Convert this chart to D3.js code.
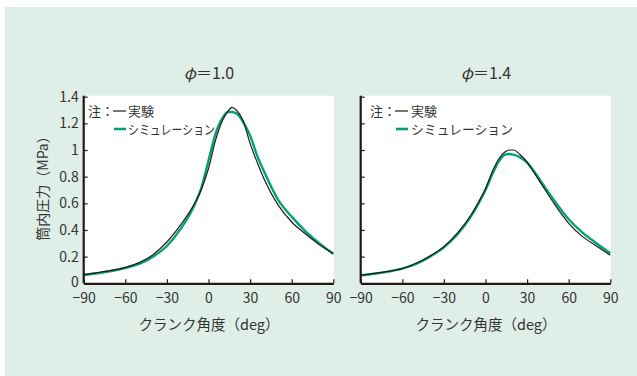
<!DOCTYPE html>
<html lang="ja">
<head>
  <meta charset="UTF-8">
  <script src="https://cdn.jsdelivr.net/npm/d3@7"></script>
  <style>
    body { margin: 0; background: #fff; }
    text { font-family: "Noto Sans CJK JP", "Noto Sans", sans-serif; fill: #333; }
  </style>
  <title>筒内圧力</title>
</head>
<body>
  <svg class="svg" width="637" height="376"></svg>
  <script>
    // クランク角度 (deg)
    const angles = [-90, -80, -70, -60, -50, -40, -30, -20, -10, -5, 0, 5, 10, 14, 17, 20, 25, 30, 35, 40, 50, 60, 70, 80, 90]

    // φ=1.0
    const exp10 = [0.065, 0.08, 0.097, 0.12, 0.155, 0.215, 0.31, 0.44, 0.60, 0.71, 0.86, 1.07, 1.22, 1.29, 1.32, 1.30, 1.22, 1.05, 0.91, 0.785, 0.59, 0.46, 0.37, 0.29, 0.225]
    const sim10 = [0.062, 0.075, 0.092, 0.115, 0.145, 0.20, 0.28, 0.41, 0.59, 0.72, 0.92, 1.12, 1.24, 1.285, 1.285, 1.275, 1.21, 1.11, 0.96, 0.84, 0.63, 0.50, 0.39, 0.30, 0.22]

    // φ=1.4
    const exp14 = [0.062, 0.075, 0.09, 0.11, 0.15, 0.205, 0.275, 0.38, 0.52, 0.61, 0.71, 0.84, 0.94, 0.985, 1.0, 1.0, 0.965, 0.91, 0.83, 0.75, 0.59, 0.45, 0.35, 0.28, 0.21]
    const sim14 = [0.06, 0.072, 0.088, 0.11, 0.145, 0.20, 0.27, 0.37, 0.51, 0.60, 0.70, 0.82, 0.92, 0.965, 0.97, 0.965, 0.945, 0.905, 0.84, 0.765, 0.615, 0.48, 0.38, 0.30, 0.225]

    const xTicks = [-90, -60, -30, 0, 30, 60, 90]
    const yTicks = [0, 0.2, 0.4, 0.6, 0.8, 1, 1.2, 1.4]
    const titles = ["1.0", "1.4"]

    const green = "#00a27a"
    const black = "#231815"

    let svg = d3.select(".svg")

    // background panel
    svg.append("rect")
      .attr("x", 5).attr("y", 7)
      .attr("width", 632).attr("height", 369)
      .attr("fill", "#e0eee8")

    let y = d3.scaleLinear().domain([0, 1.4]).range([283.3, 96.7])

    let panels = [
      {left: 83.7, right: 333.3, exp: exp10, sim: sim10, title: titles[0], labels: true,
       leg: {note: 88, dash: 113, text: 128, simW: 87}},
      {left: 360.7, right: 610.3, exp: exp14, sim: sim14, title: titles[1], labels: false,
       leg: {note: 370, dash: 395, text: 411, simW: 102}}
    ]

    panels.forEach(p => {
      let x = d3.scaleLinear().domain([-90, 90]).range([p.left, p.right])
      let g = svg.append("g")

      g.append("rect")
        .attr("x", p.left).attr("y", 95.7)
        .attr("width", p.right - p.left + 0.5)
        .attr("height", y(0) - 95.7)
        .attr("fill", "#fff")

      let line = d3.line()
        .x((d, i) => x(angles[i]))
        .y(d => y(d))
        .curve(d3.curveMonotoneX)

      g.append("path")
        .attr("d", line(p.sim))
        .attr("fill", "none")
        .attr("stroke", green)
        .attr("stroke-width", 2.4)

      g.append("path")
        .attr("d", line(p.exp))
        .attr("fill", "none")
        .attr("stroke", black)
        .attr("stroke-width", 1.2)

      // axes
      let xAxis = g.append("g")
        .attr("transform", `translate(0,${y(0)})`)
        .call(d3.axisBottom(x).tickValues(xTicks).tickSize(-4).tickSizeOuter(0).tickPadding(10))
      let yAxis = g.append("g")
        .attr("transform", `translate(${p.left},0)`)
        .call(d3.axisLeft(y).tickValues(yTicks).tickSize(-4).tickSizeOuter(0).tickPadding(5)
          .tickFormat(d => p.labels ? String(+d.toFixed(1)) : ""))

      ;[xAxis, yAxis].forEach(a => {
        a.select(".domain").attr("stroke", black).attr("stroke-width", 2.2)
        a.selectAll(".tick line").attr("stroke", black).attr("stroke-width", 1.2)
        a.selectAll(".tick text")
          .attr("font-size", 14)
          .attr("font-family", "'Noto Sans CJK JP', sans-serif")
          .attr("fill", "#333")
      })
      yAxis.select(".domain").attr("d", `M0,${y(0)}V95.7`)
      // lift the "0" label a little off the x labels
      yAxis.selectAll(".tick text").filter(d => d === 0).attr("dy", "0.2em")

      // title
      let t = svg.append("text")
        .attr("x", (p.left + p.right) / 2 + 0.5)
        .attr("y", 78.5)
        .attr("text-anchor", "middle")
        .attr("font-size", 16)
      t.append("tspan").attr("font-style", "italic").text("φ")
      t.append("tspan").text("＝" + p.title)

      // x axis title
      svg.append("text")
        .attr("x", (p.left + p.right) / 2 + 0.5)
        .attr("y", 330)
        .attr("text-anchor", "middle")
        .attr("font-size", 14.5)
        .text("クランク角度（deg）")

      // legend
      svg.append("text")
        .attr("x", p.leg.note).attr("y", 116)
        .attr("font-size", 13)
        .text("注：")
      svg.append("line")
        .attr("x1", p.leg.dash).attr("x2", p.leg.dash + 13)
        .attr("y1", 111).attr("y2", 111)
        .attr("stroke", black).attr("stroke-width", 1.2)
      svg.append("text")
        .attr("x", p.leg.text).attr("y", 116)
        .attr("font-size", 13)
        .text("実験")
      svg.append("line")
        .attr("x1", p.leg.dash + 1).attr("x2", p.leg.dash + 13)
        .attr("y1", 129).attr("y2", 129)
        .attr("stroke", green).attr("stroke-width", 2.6)
      svg.append("text")
        .attr("x", p.leg.text).attr("y", 134)
        .attr("font-size", 13)
        .attr("textLength", p.leg.simW)
        .attr("lengthAdjust", "spacingAndGlyphs")
        .text("シミュレーション")
    })

    // y axis title
    svg.append("text")
      .attr("transform", "translate(42,185) rotate(-90)")
      .attr("text-anchor", "middle")
      .attr("dominant-baseline", "central")
      .attr("font-size", 14)
      .text("筒内圧力（MPa）")
  </script>
</body>
</html>
